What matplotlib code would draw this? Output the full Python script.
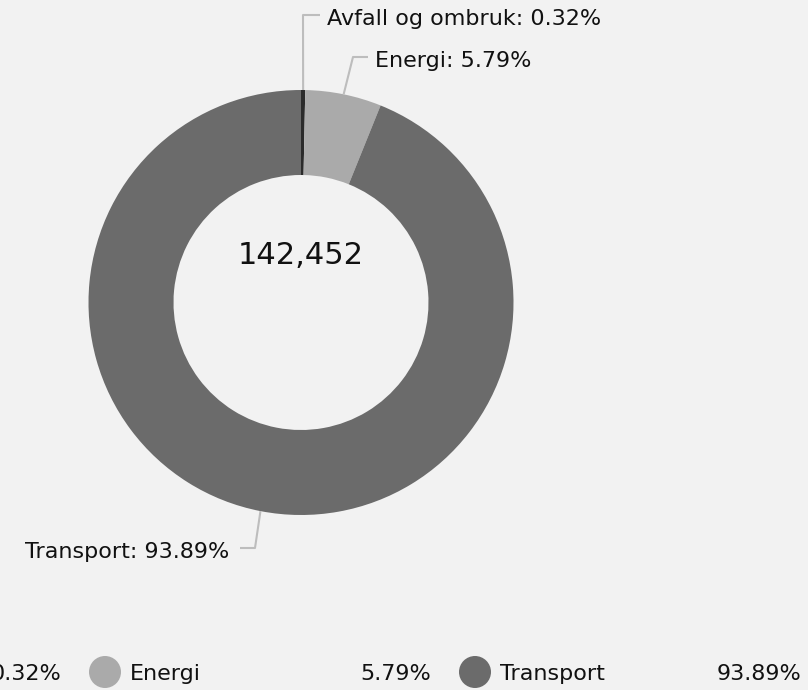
import numpy as np
import matplotlib
matplotlib.use("Agg")
import matplotlib.pyplot as plt
from matplotlib.patches import Circle

# -----------------------------
# Data
# -----------------------------
categories = ["Avfall og ombruk", "Energi", "Transport"]
shares = [0.32, 5.79, 93.89]
total_text = "142,452"
colors = ["#2b2b2b", "#aaaaaa", "#6b6b6b"]

BG = "#f2f2f2"
LINE = "#bdbdbd"
FS = 16

fig = plt.figure(figsize=(8.08, 6.9), dpi=100, facecolor=BG)
ax = fig.add_axes([0, 0, 1, 1])
ax.set_facecolor(BG)

# -----------------------------
# Donut
# -----------------------------
cx, cy, r_out, r_in = 301, 302.5, 212.5, 127.5
ax.pie(shares, colors=colors, center=(cx, cy), radius=r_out,
       startangle=-90, counterclock=True, frame=True,
       wedgeprops=dict(width=r_out - r_in, linewidth=0))
ax.set_xlim(0, 808)
ax.set_ylim(690, 0)
ax.axis("off")

ax.text(cx, 255, total_text, ha="center", va="center", fontsize=22, color="#111111")

# -----------------------------
# Leader lines + labels
# -----------------------------
cum = np.cumsum([0] + shares[:-1])
mids = (cum + np.array(shares) / 2) / 100 * 2 * np.pi
# elbow point, end of horizontal, text side
elbows = [((303, 15), 320, "left"), ((353, 57), 368, "left"), ((255, 548), 240, "right")]
for name, val, ang, (elb, hend, side) in zip(categories, shares, mids, elbows):
    px = cx + r_out * np.sin(ang)
    py = cy - r_out * np.cos(ang)
    ax.plot([px, elb[0], hend], [py, elb[1], elb[1]], color=LINE, lw=1.5,
            solid_capstyle="butt")
    tx = hend + 7 if side == "left" else hend - 11
    ax.text(tx, elb[1] + 4, f"{name}: {val:.2f}%", ha=side, va="center",
            fontsize=FS, color="#111111")

# -----------------------------
# Legend (scrolled, first entry cut off at the left edge)
# -----------------------------
step = 370
for i, (name, val, col) in enumerate(zip(categories, shares, colors)):
    off = (i - 1) * step
    if i > 0:
        ax.add_patch(Circle((105 + off, 672), 16, color=col, lw=0))
        ax.text(130 + off, 674, name, ha="left", va="center", fontsize=FS, color="#111111")
    ax.text(431 + off, 674, f"{val:.2f}%", ha="right", va="center", fontsize=FS, color="#111111")

fig.savefig("out.png", dpi=100, facecolor=BG)
